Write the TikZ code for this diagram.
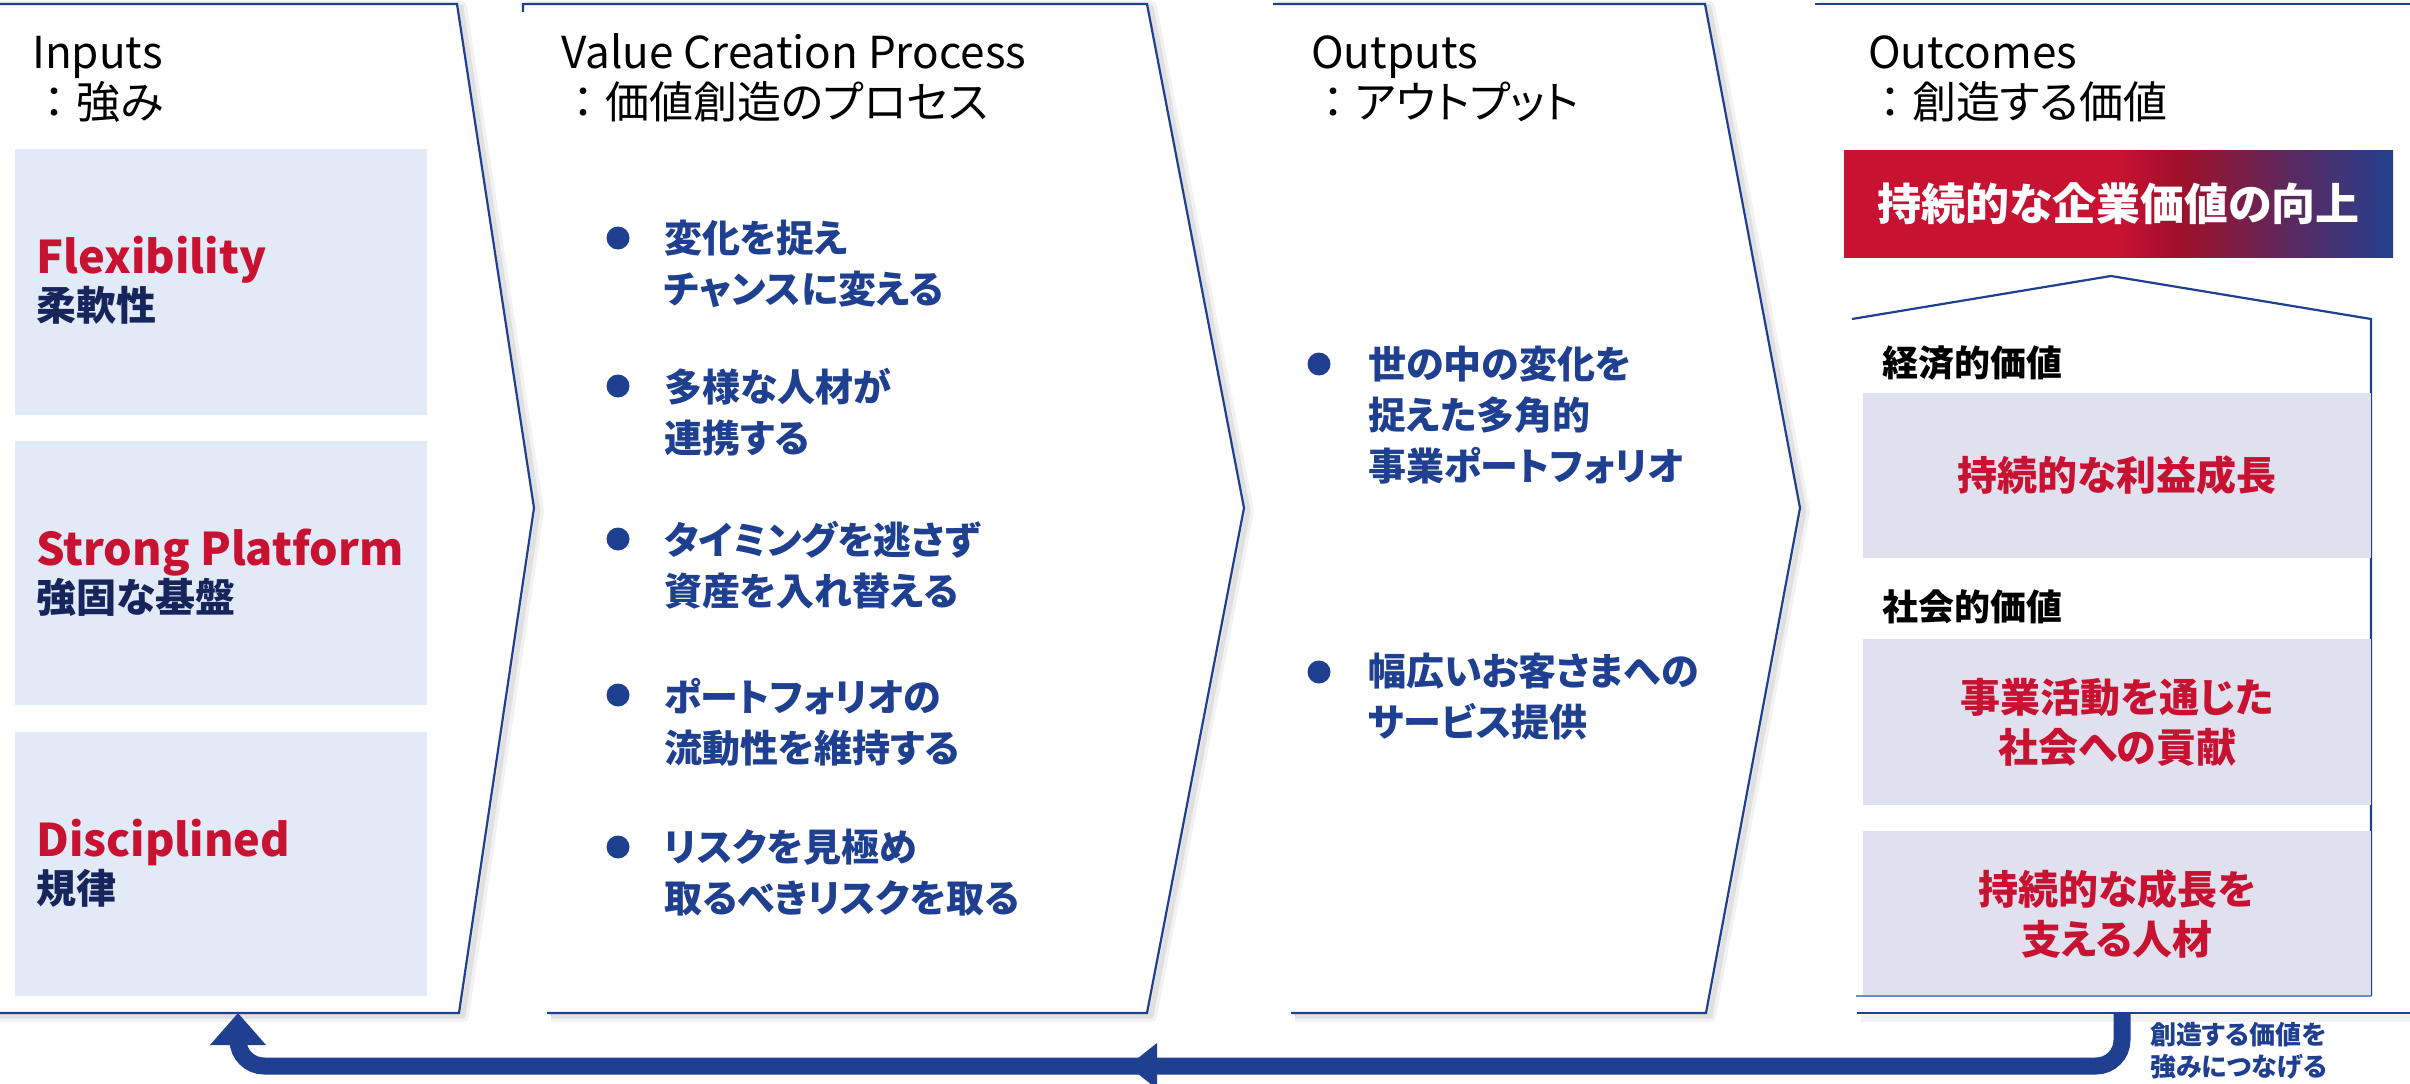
\documentclass[tikz,border=0pt]{standalone}
\usepackage{fontspec}
\setmainfont{Noto Sans CJK JP}[RawFeature={+palt}]
\newfontfamily\jpfw{Noto Sans CJK JP}
\usetikzlibrary{arrows.meta}
\definecolor{navy}{RGB}{31,64,145}
\definecolor{crim}{RGB}{200,18,50}
\definecolor{dnavy}{RGB}{22,38,92}
\definecolor{inboxc}{RGB}{226,233,247}
\definecolor{outboxc}{RGB}{225,224,238}
\definecolor{dred}{RGB}{160,16,42}
\definecolor{purp}{RGB}{95,40,92}
\definecolor{gblue}{RGB}{37,64,143}
\definecolor{lblue}{RGB}{110,140,200}
\pgfdeclarehorizontalshading{valgrad}{100bp}{color(0bp)=(crim); color(50bp)=(crim); color(55.5bp)=(dred); color(65bp)=(purp); color(75bp)=(gblue); color(100bp)=(gblue)}
\tikzset{
  shadowA/.style={draw=black, opacity=0.05, line width=12pt, line join=round},
  shadowB/.style={draw=black, opacity=0.07, line width=5pt, line join=round},
  outline/.style={draw=navy, line width=2.2pt, line join=miter},
  head/.style={anchor=base west, inner sep=0pt, font=\fontsize{44}{50}\selectfont},
  stren/.style={anchor=base west, inner sep=0pt, text=crim, font=\fontsize{45}{50}\selectfont\bfseries},
  strja/.style={anchor=base west, inner sep=0pt, text=dnavy, font=\fontsize{40}{50}\selectfont\bfseries},
  bultext/.style={anchor=west, inner sep=0pt, text=navy, align=left, font=\fontsize{38}{51}\selectfont\bfseries},
  bulletdot/.style={circle, fill=navy, inner sep=0pt, minimum size=23pt},
  inbox/.style={fill=inboxc, anchor=north west, inner sep=0pt, minimum width=412pt},
  outbox/.style={fill=outboxc, anchor=north west, inner sep=0pt, minimum width=508pt},
  outtext/.style={text=crim, align=center, inner sep=0pt, font=\fontsize{40}{50}\selectfont\bfseries},
  catlabel/.style={anchor=west, inner sep=0pt, text=black, font=\fontsize{36}{40}\selectfont\bfseries},
  gradbox/.style={shading=valgrad, anchor=north west, minimum width=549pt, minimum height=107pt, inner sep=0pt, text=white, font=\fontsize{44}{50}\selectfont\bfseries},
  loopline/.style={draw=navy, line width=17pt, rounded corners=26pt, -{Triangle[width=54pt,length=32pt]}},
  looplabel/.style={anchor=west, inner sep=0pt, text=navy, align=left, font=\fontsize{26}{32}\selectfont\bfseries}
}
\begin{document}
\begin{tikzpicture}[x=1pt,y=-1pt]
\useasboundingbox (0,0) rectangle (2410,1084);
\fill[white] (0,0) rectangle (2410,1084);

% ---------- panel 1 : Inputs
\begin{scope}[shift={(4,3)}]
  \draw[shadowA] (-10,4) -- (457,4) -- (534,508) -- (459,1013) -- (-10,1013);
  \draw[shadowB] (-10,4) -- (457,4) -- (534,508) -- (459,1013) -- (-10,1013);
\end{scope}
\fill[white] (-5,4) -- (457,4) -- (534,508) -- (459,1013) -- (-5,1013) -- cycle;
\draw[outline] (-5,4) -- (457,4) -- (534,508) -- (459,1013) -- (-5,1013);

% ---------- panel 2 : Value creation
\begin{scope}[shift={(4,3)}]
  \draw[shadowA] (523,4) -- (1147,4) -- (1244,508) -- (1147,1013) -- (547,1013);
  \draw[shadowB] (523,4) -- (1147,4) -- (1244,508) -- (1147,1013) -- (547,1013);
\end{scope}
\fill[white] (523,4) -- (1147,4) -- (1244,508) -- (1147,1013) -- (547,1013) -- (600,508) -- cycle;
\draw[outline] (523,12) -- (523,4) -- (1147,4) -- (1244,508) -- (1147,1013) -- (547,1013);

% ---------- panel 3 : Outputs
\begin{scope}[shift={(4,3)}]
  \draw[shadowA] (1273,4) -- (1705,4) -- (1800,508) -- (1706,1013) -- (1291,1013);
  \draw[shadowB] (1273,4) -- (1705,4) -- (1800,508) -- (1706,1013) -- (1291,1013);
\end{scope}
\fill[white] (1273,4) -- (1705,4) -- (1800,508) -- (1706,1013) -- (1291,1013) -- (1320,508) -- cycle;
\draw[outline] (1273,4) -- (1705,4) -- (1800,508) -- (1706,1013) -- (1291,1013);

% ---------- panel 4 : Outcomes
\begin{scope}[shift={(4,3)}]
  \draw[shadowA] (1815,4) -- (2420,4);
  \draw[shadowA] (1857,1013) -- (2420,1013);
\end{scope}
\fill[white] (1815,4) -- (2420,4) -- (2420,1013) -- (1857,1013) -- (1830,508) -- cycle;
\draw[outline] (1815,4) -- (2420,4);
\draw[outline] (1857,1013) -- (2420,1013);

% ---------- headings
\node[head] (h1a) at (32,68) {Inputs};
\node[head] (h1b) at (32,118) {{\jpfw ：}強み};
\node[head] (h2a) at (561,68) {Value Creation Process};
\node[head] (h2b) at (561,118) {{\jpfw ：}価値創造のプロセス};
\node[head] (h3a) at (1311,68) {Outputs};
\node[head] (h3b) at (1311,118) {{\jpfw ：}アウトプット};
\node[head] (h4a) at (1868,68) {Outcomes};
\node[head] (h4b) at (1868,118) {{\jpfw ：}創造する価値};

% ---------- input boxes
\node[inbox, minimum height=266pt] (in1) at (15,149) {};
\node[inbox, minimum height=264pt] (in2) at (15,441) {};
\node[inbox, minimum height=264pt] (in3) at (15,732) {};
\node[stren] (in1en) at (36,273) {Flexibility};
\node[strja] (in1ja) at (36,320) {柔軟性};
\node[stren] (in2en) at (36,565) {Strong Platform};
\node[strja] (in2ja) at (36,612) {強固な基盤};
\node[stren] (in3en) at (36,856) {Disciplined};
\node[strja] (in3ja) at (36,903) {規律};

% ---------- value creation bullets
\node[bulletdot] (d1) at (618,238) {};
\node[bultext] (v1) at (664,263.5) {変化を捉え\\チャンスに変える};
\node[bulletdot] (d2) at (618,386) {};
\node[bultext] (v2) at (664,412) {多様な人材が\\連携する};
\node[bulletdot] (d3) at (618,539) {};
\node[bultext] (v3) at (664,565.5) {タイミングを逃さず\\資産を入れ替える};
\node[bulletdot] (d4) at (618,695) {};
\node[bultext] (v4) at (664,722) {ポートフォリオの\\流動性を維持する};
\node[bulletdot] (d5) at (618,847) {};
\node[bultext] (v5) at (664,873) {リスクを見極め\\取るべきリスクを取る};

% ---------- outputs bullets
\node[bulletdot] (o1d) at (1319,364) {};
\node[bultext] (o1) at (1368,415) {世の中の変化を\\捉えた多角的\\事業ポートフォリオ};
\node[bulletdot] (o2d) at (1319,672) {};
\node[bultext] (o2) at (1368,697) {幅広いお客さまへの\\サービス提供};

% ---------- outcomes
\node[gradbox] (top) at (1844,150) {持続的な企業価値の向上};
\draw[navy, line width=2.2pt, line join=miter] (1852,319) -- (2111,276) -- (2371,319) -- (2371,996);
\node[catlabel] (econ) at (1882,363) {経済的価値};
\node[outbox, minimum height=165pt] (ob1) at (1863,393) {};
\node[outtext] (ob1t) at (ob1.center) {持続的な利益成長};
\node[catlabel] (soc) at (1882,607) {社会的価値};
\node[outbox, minimum height=166pt] (ob2) at (1863,639) {};
\node[outtext] (ob2t) at (ob2.center) {事業活動を通じた\\社会への貢献};
\node[outbox, minimum height=165pt] (ob3) at (1863,831) {};
\node[outtext] (ob3t) at (ob3.center) {持続的な成長を\\支える人材};
\draw[lblue, line width=1.5pt] (1856,996) -- (2371,996);

% ---------- feedback loop
\coordinate (arrS) at (2122,1013);
\coordinate (arrE) at (238,1013);
\draw[loopline] (arrS) -- ++(0,53) -| (arrE);
\fill[navy] (1128,1066) -- (1157,1043) -- (1157,1089) -- cycle;
\node[looplabel] (loopl) at (2150,1051) {創造する価値を\\強みにつなげる};
\end{tikzpicture}
\end{document}
